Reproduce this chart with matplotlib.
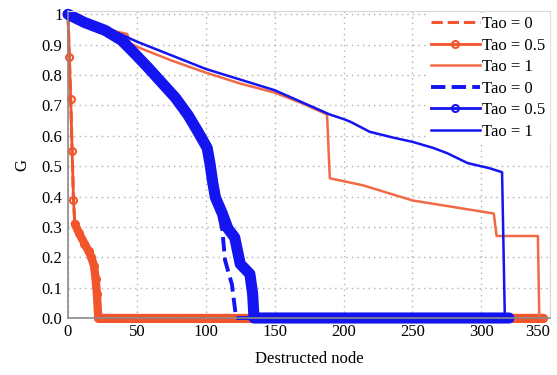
import numpy as np
import matplotlib
matplotlib.use("Agg")
import matplotlib.pyplot as plt

plt.rcParams['font.family'] = ['Liberation Serif', 'DejaVu Serif']

# ---- data ----
red_nodes = 345      # last node index of the red network
blue_nodes = 320     # last node index of the blue network

# Red, Tao = 0 (hidden under Tao = 0.5)
red_t0_x = [0, 1, 2, 3, 4, 5, 8, 12, 15, 17, 19, 20, 21, 22]
red_t0_y = [1.0, 0.86, 0.72, 0.55, 0.39, 0.31, 0.28, 0.245, 0.22, 0.20, 0.17, 0.13, 0.08, 0.0]

# Red, Tao = 0.5
red_t05_x = [0, 1, 2, 3, 4, 5, 8, 12, 15, 17, 19, 20, 21, 22]
red_t05_y = [1.0, 0.86, 0.72, 0.55, 0.39, 0.31, 0.28, 0.245, 0.22, 0.20, 0.17, 0.13, 0.08, 0.0]

# Red, Tao = 1
red_t1_x = [0, 12, 25, 38, 43, 45, 50, 75, 100, 125, 150, 170, 188, 190, 214, 250, 287, 309, 311, 341, 342]
red_t1_y = [1.0, 0.975, 0.955, 0.94, 0.935, 0.905, 0.893, 0.848, 0.808, 0.772, 0.742, 0.707, 0.67,
            0.46, 0.437, 0.387, 0.36, 0.344, 0.27, 0.27, 0.0]

# Blue, Tao = 0.5
blue_t05_x = [0, 12, 27, 39, 49, 58, 68, 78, 87, 94, 101, 103, 105, 107, 112, 116, 121, 123, 125, 132, 134, 135]
blue_t05_y = [1.0, 0.973, 0.947, 0.914, 0.868, 0.825, 0.775, 0.725, 0.669, 0.616, 0.56, 0.51, 0.447,
              0.397, 0.344, 0.295, 0.265, 0.222, 0.178, 0.145, 0.08, 0.0]

# Blue, Tao = 0
blue_t0_x = [0, 12, 27, 39, 49, 58, 68, 78, 87, 94, 101, 103, 105, 107, 112, 114, 119, 122]
blue_t0_y = [1.0, 0.973, 0.947, 0.914, 0.868, 0.825, 0.775, 0.725, 0.669, 0.616, 0.56, 0.51, 0.447,
             0.397, 0.29, 0.19, 0.11, 0.0]

# Blue, Tao = 1
blue_t1_x = [0, 12, 25, 38, 50, 75, 100, 125, 150, 170, 190, 200, 205, 219, 235, 250, 265, 275, 290,
             306, 315, 317]
blue_t1_y = [1.0, 0.975, 0.955, 0.935, 0.91, 0.865, 0.82, 0.785, 0.75, 0.71, 0.67, 0.655, 0.646,
             0.613, 0.595, 0.58, 0.56, 0.543, 0.51, 0.493, 0.48, 0.0]

labels = ['Tao = 0', 'Tao = 0.5', 'Tao = 1']
red = '#F2552C'
red_light = '#F26A45'
blue = '#1414F0'


def pad_zeros(xs, ys, last):
    """G stays 0 once the network has collapsed, up to the last node."""
    tail = np.arange(xs[-1] + 1, last + 1)
    return np.concatenate([xs, tail]), np.concatenate([ys, np.zeros(len(tail))])


fig = plt.figure(figsize=(5.57, 3.75), dpi=100)
ax = fig.add_axes([0.122, 0.152, 0.866, 0.818])

# grid
ax.grid(True, color='#b0b0b0', linestyle=(0, (1, 3)), linewidth=1.0)
ax.set_axisbelow(True)

# ---- red series ----
x, y = pad_zeros(red_t0_x, red_t0_y, red_nodes)
ax.plot(x, y, '--', color=red, lw=2.2, label=labels[0], clip_on=False)
x, y = pad_zeros(red_t05_x, red_t05_y, red_nodes)
ax.plot(x[5:], y[5:], '-', color=red, lw=6, solid_capstyle='round', clip_on=False)
ax.plot(x, y, '-o', color=red, lw=2.0, ms=5, mfc='none', mew=1.5, label=labels[1], clip_on=False)
x, y = pad_zeros(red_t1_x, red_t1_y, red_nodes)
ax.plot(x, y, '-', color=red_light, lw=1.8, label=labels[2], clip_on=False)

# ---- blue series ----
x, y = pad_zeros(blue_t0_x, blue_t0_y, blue_nodes)
ax.plot(x, y, '--', color=blue, lw=2.8, label=labels[0], clip_on=False)
x, y = pad_zeros(blue_t05_x, blue_t05_y, blue_nodes)
ax.plot(x, y, '-', color=blue, lw=8, solid_capstyle='round', clip_on=False)
ax.plot(x, y, '-o', color=blue, lw=2.0, ms=5, mfc='none', mew=1.5, label=labels[1], clip_on=False)
x, y = pad_zeros(blue_t1_x, blue_t1_y, blue_nodes)
ax.plot(x, y, '-', color=blue, lw=1.8, label=labels[2], clip_on=False)

ax.set_xlim(0, 350)
ax.set_ylim(0, 1.01)
ax.set_xticks(np.arange(0, 351, 50))
ax.set_yticks(np.arange(0, 1.01, 0.1))
ax.set_yticklabels(['0.0', '0.1', '0.2', '0.3', '0.4', '0.5', '0.6', '0.7', '0.8', '0.9', '1'])
ax.tick_params(length=0, labelsize=12, pad=4)
ax.get_xticklabels()[-1].set_horizontalalignment('right')

for s in ['left', 'bottom']:
    ax.spines[s].set_color('#8a8a8a')
    ax.spines[s].set_linewidth(1.2)
for s in ['top', 'right']:
    ax.spines[s].set_color('#d8d8d8')
    ax.spines[s].set_linewidth(0.8)

ax.set_xlabel('Destructed node', fontsize=12, labelpad=8)
ax.set_ylabel('G', fontsize=12, labelpad=8)

leg = ax.legend(loc='upper right', fontsize=12, frameon=True, framealpha=1.0,
                edgecolor='white', fancybox=False, handlelength=2.9, handletextpad=0.15,
                labelspacing=0.33, borderpad=0.2, borderaxespad=0.1)

fig.savefig('out.png', dpi=100)
